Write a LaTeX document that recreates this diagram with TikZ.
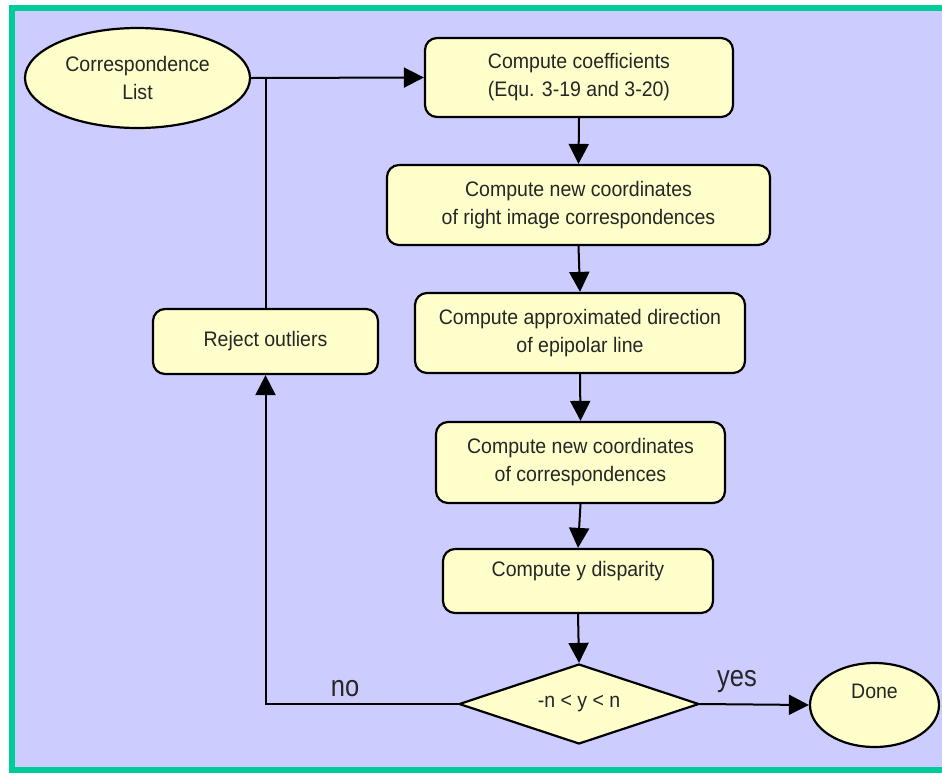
\documentclass[tikz,border=0pt]{standalone}
\usepackage{fontspec}
\setmainfont{Liberation Sans}[FakeStretch=0.93]
\newfontfamily\answerfont{Liberation Sans}[FakeStretch=0.85]
\usetikzlibrary{shapes.geometric,arrows.meta}
\definecolor{panel}{HTML}{CCCCFF}
\definecolor{frameline}{HTML}{00CC99}
\definecolor{boxfill}{HTML}{FFFFCC}

\begin{document}
\begin{tikzpicture}[x=1pt,y=-1pt,
  every node/.style={font=\fontsize{21}{28}\selectfont, inner sep=0pt, text=black!85},
  proc/.style={draw, line width=2.2pt, fill=boxfill, rounded corners=12pt, align=center},
  term/.style={draw, ellipse, line width=2.2pt, fill=boxfill, align=center},
  decision/.style={draw, diamond, line width=2.2pt, fill=boxfill, aspect=3},
  flow/.style={line width=2pt, -{Triangle[length=20pt,width=20pt]}},
  plain/.style={line width=2pt},
  answer/.style={font=\answerfont\fontsize{30}{30}\selectfont}]

\useasboundingbox (0,0) rectangle (942,772);

% background panel with its green frame
\begin{scope}
  \clip (0,0) rectangle (942,772);
  \draw[line width=6pt, draw=frameline, fill=panel] (12.25,8) rectangle (960,769.5);
\end{scope}

% nodes
\node[term, minimum width=225pt, minimum height=100pt] (list) at (137.5,78) {Correspondence\\List};
\node[proc, minimum width=308pt, minimum height=79pt] (coef) at (579,77.5) {Compute coefficients\\(Equ. 3-19 and 3-20)};
\node[proc, minimum width=383pt, minimum height=80pt] (right) at (578.5,205) {Compute new coordinates\\of right image correspondences};
\node[proc, minimum width=330pt, minimum height=80pt] (epi) at (580,333) {Compute approximated direction\\of epipolar line};
\node[proc, minimum width=289pt, minimum height=81pt] (newc) at (580.5,462.5) {Compute new coordinates\\of correspondences};
\node[proc, minimum width=270pt, minimum height=64pt, text height=15pt, text depth=24pt] (ydisp) at (578,581) {Compute y disparity};
\node[proc, minimum width=225pt, minimum height=65pt] (reject) at (265.5,341.5) {Reject outliers};
\node[decision, minimum width=240pt, minimum height=80pt] (test) at (579,704) {-n < y < n};
\node[term, minimum width=129pt, minimum height=84pt, text height=15pt, text depth=28pt] (done) at (874.5,705) {Done};

% connectors
\draw[flow] (list.east) -- (coef.west);
\draw[plain] (reject.north) -- (reject.north |- list.east);
\draw[flow] (coef.south) -- (right.north);
\draw[flow] (right.south) -- (epi.north);
\draw[flow] (epi.south) -- (newc.north);
\draw[flow] (newc.south) -- (ydisp.north);
\draw[flow] (ydisp.south) -- (test.north);
\draw[flow] (test.east) -- (done.west);
\draw[flow] (test.west) -- (test.west -| reject.south) -- (reject.south);

% branch labels
\node[answer] (no) at (345,689) {no};
\node[answer] (yes) at (737,682) {yes};
\end{tikzpicture}
\end{document}
